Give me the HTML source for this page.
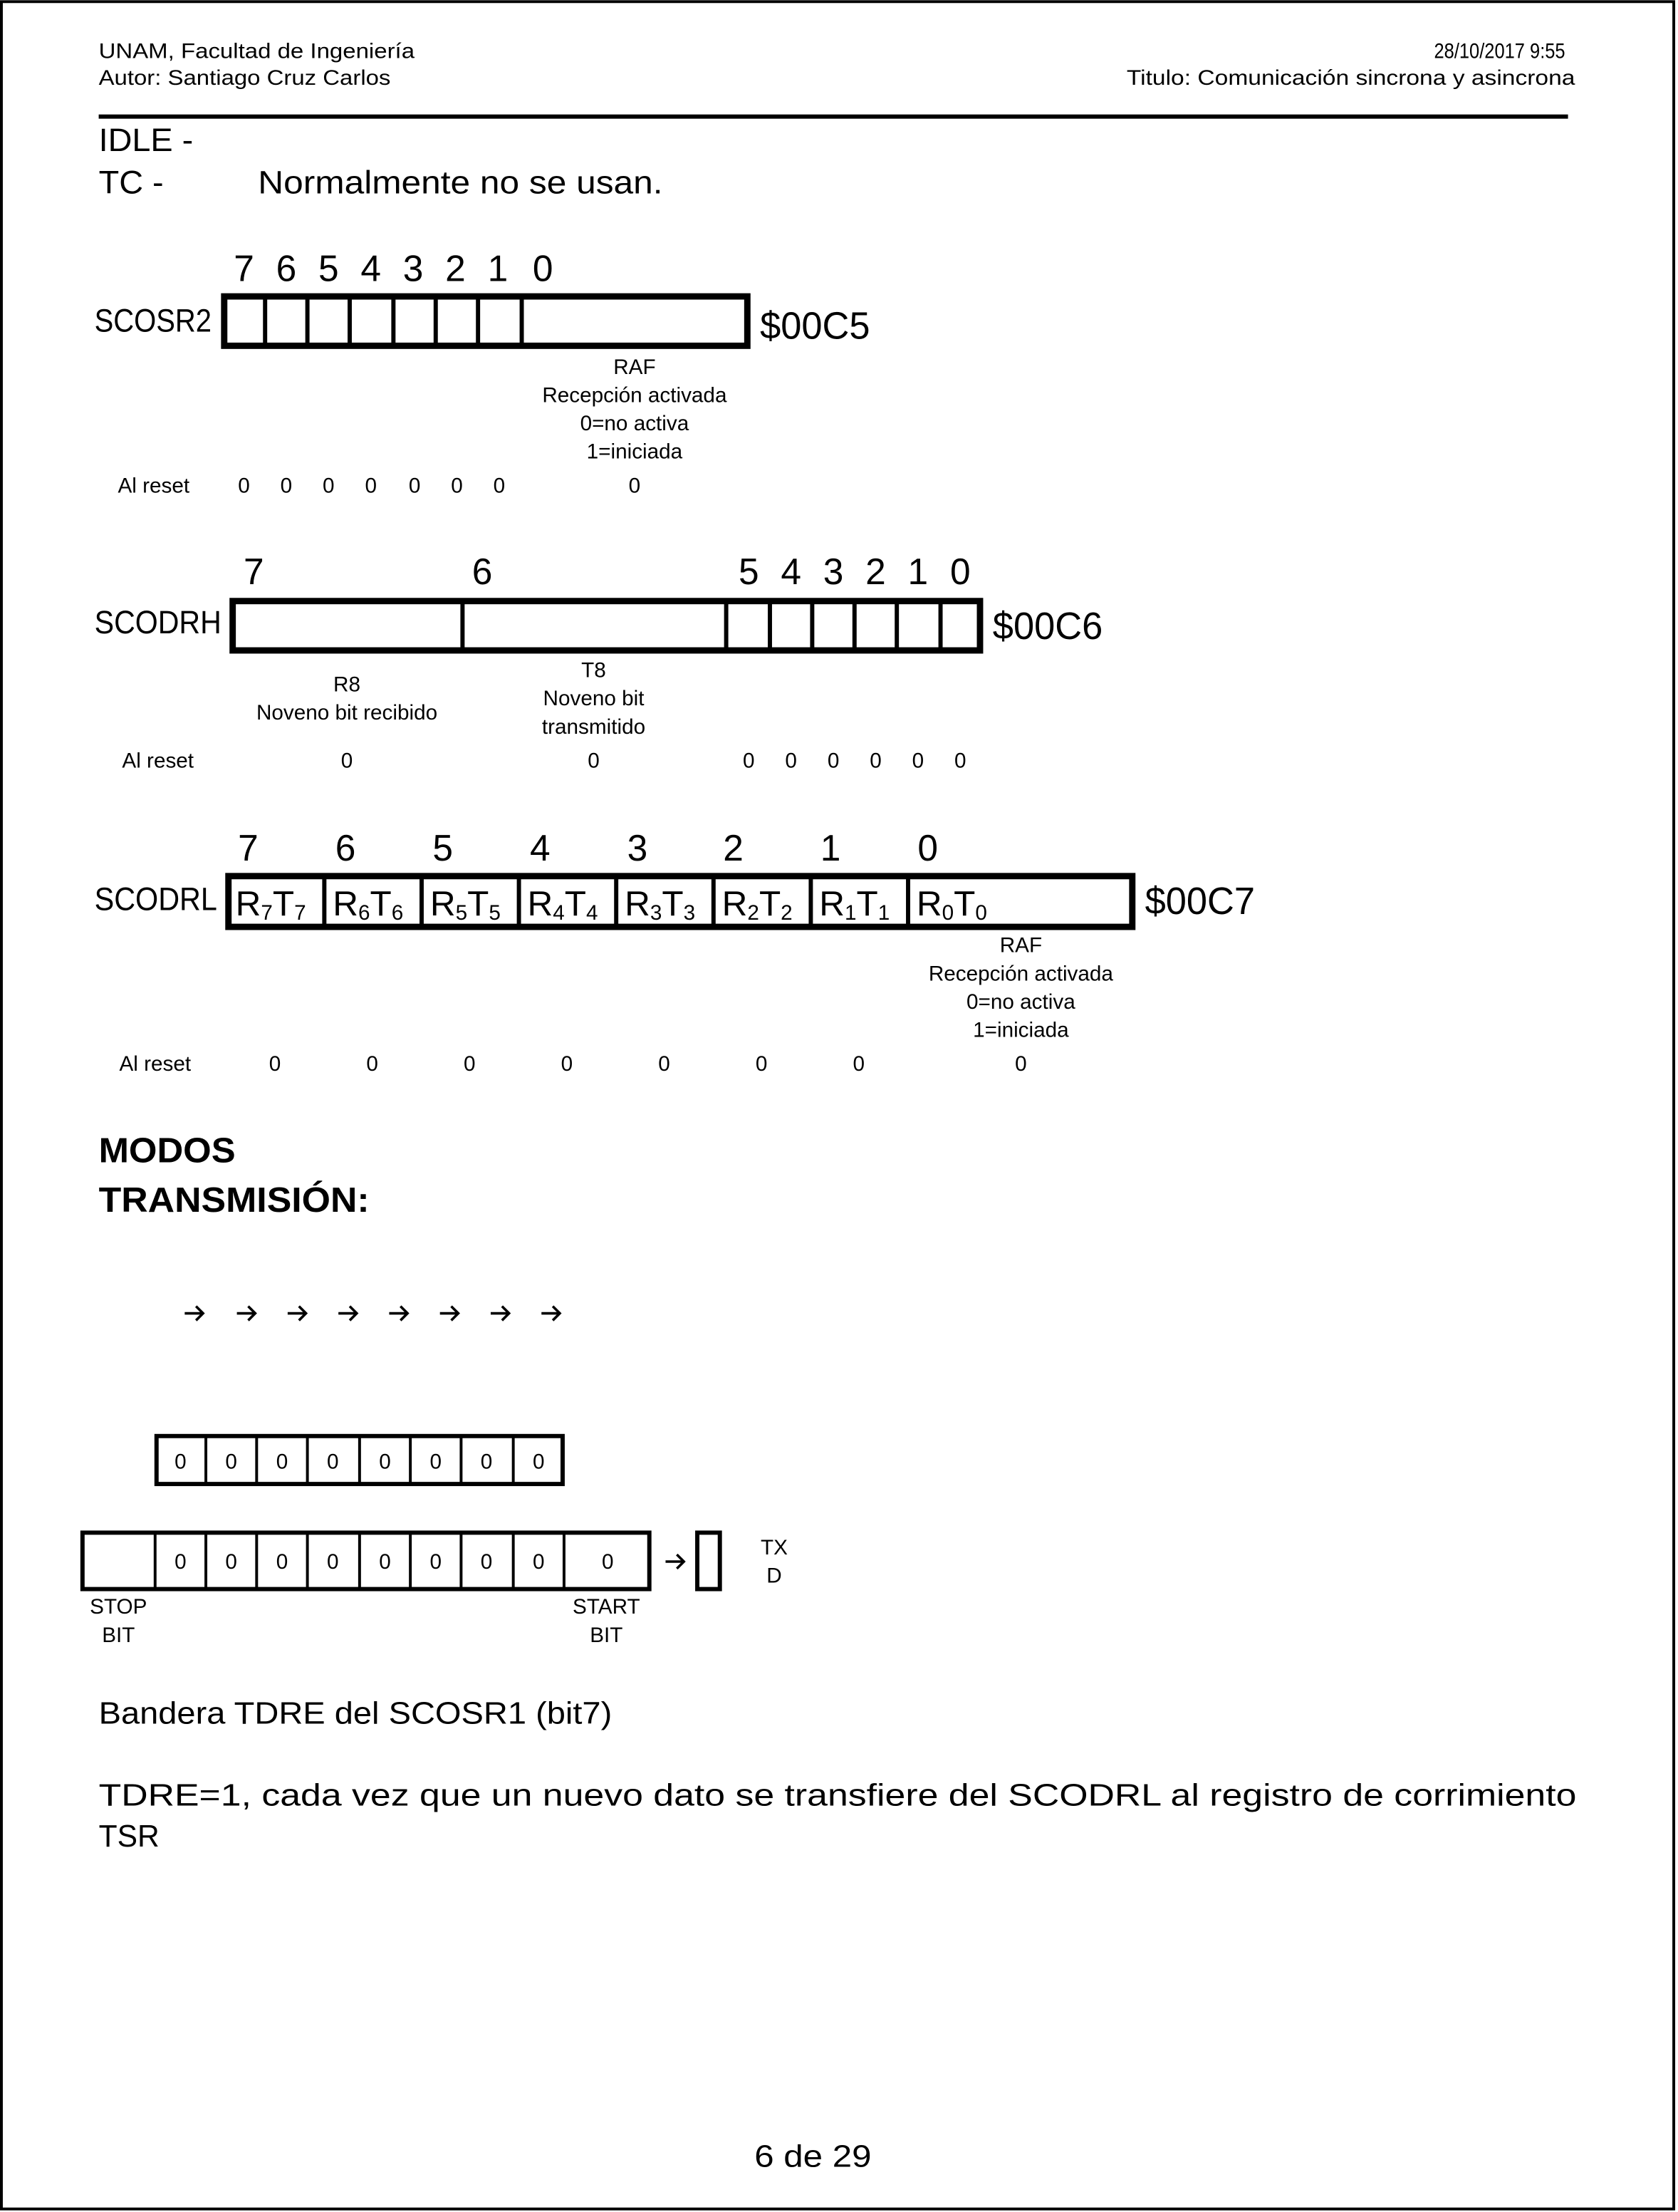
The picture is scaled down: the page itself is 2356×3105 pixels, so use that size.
<!DOCTYPE html>
<html><head><meta charset="utf-8"><style>
html,body{margin:0;padding:0;background:#fff;}
svg{display:block;}
text{font-family:"Liberation Sans Narrow","Liberation Sans",sans-serif;fill:#000;}
</style></head><body>
<svg width="2356" height="3105" viewBox="0 0 1190 1568" xmlns="http://www.w3.org/2000/svg">
<rect x="1" y="1" width="1186" height="1565" fill="none" stroke="#000" stroke-width="2"/>
<!-- header -->
<g font-size="15">
<text x="70" y="41" textLength="224" lengthAdjust="spacingAndGlyphs">UNAM, Facultad de Ingeniería</text>
<text x="70" y="60" textLength="207" lengthAdjust="spacingAndGlyphs">Autor: Santiago Cruz Carlos</text>
<text x="1017" y="41" textLength="93" lengthAdjust="spacingAndGlyphs">28/10/2017 9:55</text>
<text x="799" y="60" textLength="318" lengthAdjust="spacingAndGlyphs">Titulo: Comunicación sincrona y asincrona</text>
</g>
<rect x="70" y="81" width="1042" height="3" fill="#000"/>
<g font-size="23">
<text x="70" y="107" textLength="67" lengthAdjust="spacingAndGlyphs">IDLE -</text>
<text x="70" y="137" textLength="46" lengthAdjust="spacingAndGlyphs">TC -</text>
<text x="183" y="137" textLength="287" lengthAdjust="spacingAndGlyphs">Normalmente no se usan.</text>
</g>

<!-- SCOSR2 -->
<g font-size="26" text-anchor="middle">
<text x="173" y="199">7</text><text x="203" y="199">6</text><text x="233" y="199">5</text><text x="263" y="199">4</text><text x="293" y="199">3</text><text x="323" y="199">2</text><text x="353" y="199">1</text><text x="385" y="199">0</text>
</g>
<text x="67" y="235" font-size="23" textLength="83" lengthAdjust="spacingAndGlyphs">SCOSR2</text>
<rect x="159" y="210" width="371" height="35" fill="none" stroke="#000" stroke-width="4.5"/>
<g stroke="#000" stroke-width="3">
<line x1="188" y1="210" x2="188" y2="245"/><line x1="218" y1="210" x2="218" y2="245"/><line x1="248" y1="210" x2="248" y2="245"/><line x1="279" y1="210" x2="279" y2="245"/><line x1="309" y1="210" x2="309" y2="245"/><line x1="339" y1="210" x2="339" y2="245"/><line x1="370" y1="210" x2="370" y2="245"/>
</g>
<text x="539" y="240" font-size="27" textLength="78" lengthAdjust="spacingAndGlyphs">$00C5</text>
<g font-size="15" text-anchor="middle">
<text x="450" y="265">RAF</text>
<text x="450" y="285">Recepción activada</text>
<text x="450" y="305">0=no activa</text>
<text x="450" y="325">1=iniciada</text>
<text x="109" y="349">Al reset</text>
<text x="173" y="349">0</text><text x="203" y="349">0</text><text x="233" y="349">0</text><text x="263" y="349">0</text><text x="294" y="349">0</text><text x="324" y="349">0</text><text x="354" y="349">0</text><text x="450" y="349">0</text>
</g>

<!-- SCODRH -->
<g font-size="26" text-anchor="middle">
<text x="180" y="414">7</text><text x="342" y="414">6</text><text x="531" y="414">5</text><text x="561" y="414">4</text><text x="591" y="414">3</text><text x="621" y="414">2</text><text x="651" y="414">1</text><text x="681" y="414">0</text>
</g>
<text x="67" y="449" font-size="23" textLength="90" lengthAdjust="spacingAndGlyphs">SCODRH</text>
<rect x="165" y="426" width="530" height="35" fill="none" stroke="#000" stroke-width="4.5"/>
<g stroke="#000" stroke-width="3">
<line x1="328" y1="426" x2="328" y2="461"/><line x1="515" y1="426" x2="515" y2="461"/><line x1="546" y1="426" x2="546" y2="461"/><line x1="576" y1="426" x2="576" y2="461"/><line x1="606" y1="426" x2="606" y2="461"/><line x1="636" y1="426" x2="636" y2="461"/><line x1="667" y1="426" x2="667" y2="461"/>
</g>
<text x="704" y="453" font-size="27" textLength="78" lengthAdjust="spacingAndGlyphs">$00C6</text>
<g font-size="15" text-anchor="middle">
<text x="246" y="490">R8</text>
<text x="246" y="510">Noveno bit recibido</text>
<text x="421" y="480">T8</text>
<text x="421" y="500">Noveno bit</text>
<text x="421" y="520">transmitido</text>
<text x="112" y="544">Al reset</text>
<text x="246" y="544">0</text><text x="421" y="544">0</text><text x="531" y="544">0</text><text x="561" y="544">0</text><text x="591" y="544">0</text><text x="621" y="544">0</text><text x="651" y="544">0</text><text x="681" y="544">0</text>
</g>

<!-- SCODRL -->
<g font-size="26" text-anchor="middle">
<text x="176" y="610">7</text><text x="245" y="610">6</text><text x="314" y="610">5</text><text x="383" y="610">4</text><text x="452" y="610">3</text><text x="520" y="610">2</text><text x="589" y="610">1</text><text x="658" y="610">0</text>
</g>
<text x="67" y="645" font-size="23" textLength="87" lengthAdjust="spacingAndGlyphs">SCODRL</text>
<rect x="162" y="621" width="641" height="36" fill="none" stroke="#000" stroke-width="4.5"/>
<g stroke="#000" stroke-width="3">
<line x1="230" y1="621" x2="230" y2="657"/><line x1="299" y1="621" x2="299" y2="657"/><line x1="368" y1="621" x2="368" y2="657"/><line x1="437" y1="621" x2="437" y2="657"/><line x1="506" y1="621" x2="506" y2="657"/><line x1="575" y1="621" x2="575" y2="657"/><line x1="644" y1="621" x2="644" y2="657"/>
</g>
<g font-size="25">
<text x="167" y="649">R<tspan font-size="15" dy="3">7</tspan><tspan dy="-3">T</tspan><tspan font-size="15" dy="3">7</tspan></text>
<text x="236" y="649">R<tspan font-size="15" dy="3">6</tspan><tspan dy="-3">T</tspan><tspan font-size="15" dy="3">6</tspan></text>
<text x="305" y="649">R<tspan font-size="15" dy="3">5</tspan><tspan dy="-3">T</tspan><tspan font-size="15" dy="3">5</tspan></text>
<text x="374" y="649">R<tspan font-size="15" dy="3">4</tspan><tspan dy="-3">T</tspan><tspan font-size="15" dy="3">4</tspan></text>
<text x="443" y="649">R<tspan font-size="15" dy="3">3</tspan><tspan dy="-3">T</tspan><tspan font-size="15" dy="3">3</tspan></text>
<text x="512" y="649">R<tspan font-size="15" dy="3">2</tspan><tspan dy="-3">T</tspan><tspan font-size="15" dy="3">2</tspan></text>
<text x="581" y="649">R<tspan font-size="15" dy="3">1</tspan><tspan dy="-3">T</tspan><tspan font-size="15" dy="3">1</tspan></text>
<text x="650" y="649">R<tspan font-size="15" dy="3">0</tspan><tspan dy="-3">T</tspan><tspan font-size="15" dy="3">0</tspan></text>
</g>
<text x="812" y="648" font-size="27" textLength="78" lengthAdjust="spacingAndGlyphs">$00C7</text>
<g font-size="15" text-anchor="middle">
<text x="724" y="675">RAF</text>
<text x="724" y="695">Recepción activada</text>
<text x="724" y="715">0=no activa</text>
<text x="724" y="735">1=iniciada</text>
<text x="110" y="759">Al reset</text>
<text x="195" y="759">0</text><text x="264" y="759">0</text><text x="333" y="759">0</text><text x="402" y="759">0</text><text x="471" y="759">0</text><text x="540" y="759">0</text><text x="609" y="759">0</text><text x="724" y="759">0</text>
</g>

<!-- MODOS -->
<g font-size="25" font-weight="bold">
<text x="70" y="824" textLength="97" lengthAdjust="spacingAndGlyphs">MODOS</text>
<text x="70" y="859" textLength="192" lengthAdjust="spacingAndGlyphs">TRANSMISIÓN:</text>
</g>
<g fill="none" stroke="#000" stroke-width="1.8">
<path d="M131 931h13M139 926l5 5-5 5"/>
<path d="M168 931h13M176 926l5 5-5 5"/>
<path d="M204 931h13M212 926l5 5-5 5"/>
<path d="M240 931h13M248 926l5 5-5 5"/>
<path d="M276 931h13M284 926l5 5-5 5"/>
<path d="M312 931h13M320 926l5 5-5 5"/>
<path d="M348 931h13M356 926l5 5-5 5"/>
<path d="M384 931h13M392 926l5 5-5 5"/>
<path d="M472 1107h13M480 1102l5 5-5 5"/>
</g>

<!-- upper box -->
<rect x="111" y="1018" width="288" height="34" fill="none" stroke="#000" stroke-width="3"/>
<g stroke="#000" stroke-width="2">
<line x1="146" y1="1018" x2="146" y2="1052"/><line x1="182" y1="1018" x2="182" y2="1052"/><line x1="218" y1="1018" x2="218" y2="1052"/><line x1="255" y1="1018" x2="255" y2="1052"/><line x1="291" y1="1018" x2="291" y2="1052"/><line x1="327" y1="1018" x2="327" y2="1052"/><line x1="364" y1="1018" x2="364" y2="1052"/>
</g>
<g font-size="15" text-anchor="middle">
<text x="128" y="1041">0</text><text x="164" y="1041">0</text><text x="200" y="1041">0</text><text x="236" y="1041">0</text><text x="273" y="1041">0</text><text x="309" y="1041">0</text><text x="345" y="1041">0</text><text x="382" y="1041">0</text>
</g>

<!-- lower box -->
<rect x="58.5" y="1086.5" width="402" height="40" fill="none" stroke="#000" stroke-width="3"/>
<g stroke="#000" stroke-width="2">
<line x1="110" y1="1086" x2="110" y2="1127"/><line x1="146" y1="1086" x2="146" y2="1127"/><line x1="182" y1="1086" x2="182" y2="1127"/><line x1="218" y1="1086" x2="218" y2="1127"/><line x1="255" y1="1086" x2="255" y2="1127"/><line x1="291" y1="1086" x2="291" y2="1127"/><line x1="327" y1="1086" x2="327" y2="1127"/><line x1="364" y1="1086" x2="364" y2="1127"/><line x1="400" y1="1086" x2="400" y2="1127"/>
</g>
<g font-size="15" text-anchor="middle">
<text x="128" y="1112">0</text><text x="164" y="1112">0</text><text x="200" y="1112">0</text><text x="236" y="1112">0</text><text x="273" y="1112">0</text><text x="309" y="1112">0</text><text x="345" y="1112">0</text><text x="382" y="1112">0</text><text x="431" y="1112">0</text>
</g>
<rect x="494.5" y="1086.5" width="16" height="40" fill="none" stroke="#000" stroke-width="3"/>
<g font-size="15" text-anchor="middle">
<text x="549" y="1102">TX</text><text x="549" y="1122">D</text>
<text x="84" y="1144">STOP</text><text x="84" y="1164">BIT</text>
<text x="430" y="1144">START</text><text x="430" y="1164">BIT</text>
</g>

<g font-size="22">
<text x="70" y="1222" textLength="364" lengthAdjust="spacingAndGlyphs">Bandera TDRE del SCOSR1 (bit7)</text>
<text x="70" y="1280" textLength="1048" lengthAdjust="spacingAndGlyphs">TDRE=1, cada vez que un nuevo dato se transfiere del SCODRL al registro de corrimiento</text>
<text x="70" y="1309" textLength="43" lengthAdjust="spacingAndGlyphs">TSR</text>
<text x="535" y="1536" textLength="83" lengthAdjust="spacingAndGlyphs">6 de 29</text>
</g>
</svg>
</body></html>
